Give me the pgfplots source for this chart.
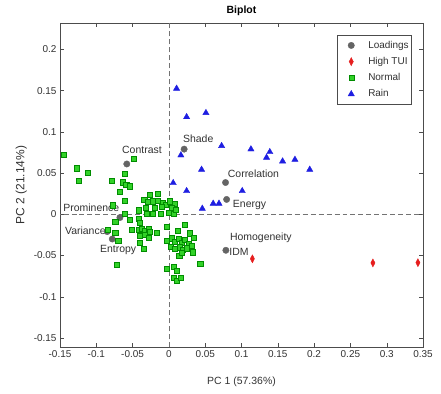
\documentclass[border=0pt]{standalone}
\usepackage{pgfplots}
\pgfplotsset{compat=1.18}
\usepackage{fontspec}
\setmainfont{Liberation Sans}
\definecolor{lgray}{RGB}{100,100,100}
\definecolor{lred}{RGB}{230,30,30}
\definecolor{lgreen}{RGB}{50,210,40}
\definecolor{lblue}{RGB}{30,30,225}
\definecolor{txt}{RGB}{50,50,50}
\pgfplotsset{lgimg/.style={legend image code/.code={\path[draw=none,fill=none] (0bp,-4bp) rectangle (28bp,4bp); \draw[##1] plot coordinates {(12bp,0bp)};}}}
\begin{document}
\begin{tikzpicture}
\path[use as bounding box] (0,0) rectangle (441bp,394bp);
\begin{axis}[
  at={(60bp,47bp)}, anchor=south west,
  scale only axis, width=363bp, height=324bp,
  xmin=-0.15, xmax=0.35, ymin=-0.161, ymax=0.232,
  xtick={-0.15,-0.1,...,0.36}, ytick={-0.15,-0.1,...,0.21},
  scaled ticks=false,
  tick align=inside,
  major tick length=4bp,
  tick style={black!70, line width=0.4pt},
  axis line style={black!70, line width=0.5pt},
  /pgf/number format/assume math mode=true,
  /pgf/number format/fixed,
  /pgf/number format/precision=2,
  ticklabel style={font=\fontsize{10}{12}\selectfont, text=txt},
  xlabel={PC 1 (57.36\%)}, ylabel={PC 2 (21.14\%)},
  xlabel style={font=\fontsize{10.5}{12}\selectfont, text=txt, yshift=-13bp},
  ylabel style={font=\fontsize{12}{14}\selectfont, text=txt},
  title={Biplot}, title style={font=\bfseries\fontsize{10.5}{12}\selectfont, yshift=-2bp},
  legend style={at={(axis cs:0.3347,0.2170)}, anchor=north east,
    font=\fontsize{10}{12}\selectfont, draw=black!70, text=txt,
    inner xsep=2bp, inner ysep=4.5bp, nodes={inner sep=1bp}, row sep=5.5bp},
  legend cell align=left,
  clip=true,
]
\addplot[forget plot, black!55, line width=0.7pt, dash pattern=on 5pt off 3pt] coordinates {(0,-0.2) (0,0.3)};
\addplot[forget plot, black!55, line width=0.7pt, dash pattern=on 5pt off 3pt] coordinates {(-0.2,0) (0.4,0)};

\addplot[only marks, lgimg, mark=*, mark size=3.2bp, mark options={fill=lgray, draw=black!60}] coordinates {
(-0.058,0.061) (0.021,0.079) (0.078,0.0385) (0.0795,0.018) (0.0785,-0.0437)
(-0.0675,-0.004) (-0.085,-0.021) (-0.078,-0.030)
};
\addlegendentry{Loadings}

\addplot[only marks, lgimg, mark=diamond*, mark size=4bp, mark options={fill=lred, draw=lred, xscale=0.7}] coordinates {
(0.115,-0.054) (0.281,-0.059) (0.343,-0.0587)
};
\addlegendentry{High TUI}

\addplot[only marks, lgimg, mark=square*, mark size=2.6bp, mark options={fill=lgreen, draw=green!55!black, line width=0.3pt}] coordinates {
(-0.145,0.072) (-0.127,0.056) (-0.124,0.041) (-0.112,0.050) (-0.079,0.041)
(-0.061,0.049) (-0.049,0.067) (-0.064,0.039) (-0.059,0.036) (-0.054,0.034)
(-0.068,0.027) (-0.061,0.017) (-0.077,0.011) (-0.061,0.001)
(-0.027,0.024) (-0.015,0.025) (-0.034,0.018) (-0.029,0.015) (-0.022,0.016)
(-0.015,0.017) (-0.009,0.014) (-0.004,0.012) (0.001,0.016) (0.008,0.013)
(-0.032,0.008) (-0.020,0.008) (-0.010,0.009) (0.004,0.008) (-0.042,0.005)
(-0.031,0.001) (-0.022,0.001) (-0.011,0.001) (0.000,0.002) (0.006,0.001) (0.009,0.006)
(-0.054,-0.007) (-0.042,-0.005) (-0.040,-0.010) (-0.074,-0.009) (-0.084,-0.019)
(-0.074,-0.022) (-0.051,-0.019) (-0.042,-0.019) (-0.038,-0.017) (-0.033,-0.020)
(-0.028,-0.018) (-0.026,-0.021) (-0.040,-0.026) (-0.033,-0.025) (-0.028,-0.028)
(-0.017,-0.022) (-0.070,-0.032) (-0.040,-0.034) (-0.035,-0.042) (-0.072,-0.061)
(-0.003,-0.015) (0.012,-0.020) (0.022,-0.013) (-0.003,-0.032) (0.004,-0.029)
(0.008,-0.033) (0.013,-0.030) (0.018,-0.034) (0.022,-0.031) (0.027,-0.036)
(0.031,-0.038) (0.029,-0.023) (0.034,-0.028) (0.002,-0.039) (0.008,-0.042)
(0.015,-0.040) (0.019,-0.043) (0.024,-0.041) (0.014,-0.050) (0.018,-0.047)
(0.033,-0.046) (0.043,-0.060) (-0.003,-0.066) (0.006,-0.064) (0.011,-0.068)
(0.006,-0.077) (0.011,-0.081) (0.016,-0.077)
};
\addlegendentry{Normal}

\addplot[only marks, lgimg, mark=triangle*, mark size=3.6bp, mark options={fill=lblue, draw=lblue}] coordinates {
(0.0106,0.1525) (0.0244,0.118) (0.051,0.123) (0.0165,0.0716) (0.0726,0.083)
(0.113,0.0789) (0.139,0.0756) (0.1345,0.0688) (0.1566,0.0643) (0.1736,0.0663)
(0.194,0.0542) (0.045,0.0542) (0.0059,0.038) (0.0244,0.0283) (0.101,0.0283)
(0.046,0.0069) (0.061,0.013) (0.069,0.013)
};
\addlegendentry{Rain}

\begin{scope}[every node/.style={inner sep=0pt, font=\fontsize{10.5}{12}\selectfont, text=txt}]
\node[anchor=east] at (axis cs:-0.0096,0.0777) {Contrast};
\node[anchor=west] at (axis cs:0.0193,0.091) {Shade};
\node[anchor=west] at (axis cs:0.081,0.0494) {Correlation};
\node[anchor=west] at (axis cs:0.088,0.0118) {Energy};
\node[anchor=west] at (axis cs:0.084,-0.0288) {Homogeneity};
\node[anchor=west] at (axis cs:0.083,-0.0457) {IDM};
\node[anchor=west] at (axis cs:-0.1456,0.0081) {Prominence};
\node[anchor=west] at (axis cs:-0.1433,-0.0206) {Variance};
\node[anchor=west] at (axis cs:-0.095,-0.043) {Entropy};
\end{scope}
\end{axis}
\end{tikzpicture}
\end{document}
